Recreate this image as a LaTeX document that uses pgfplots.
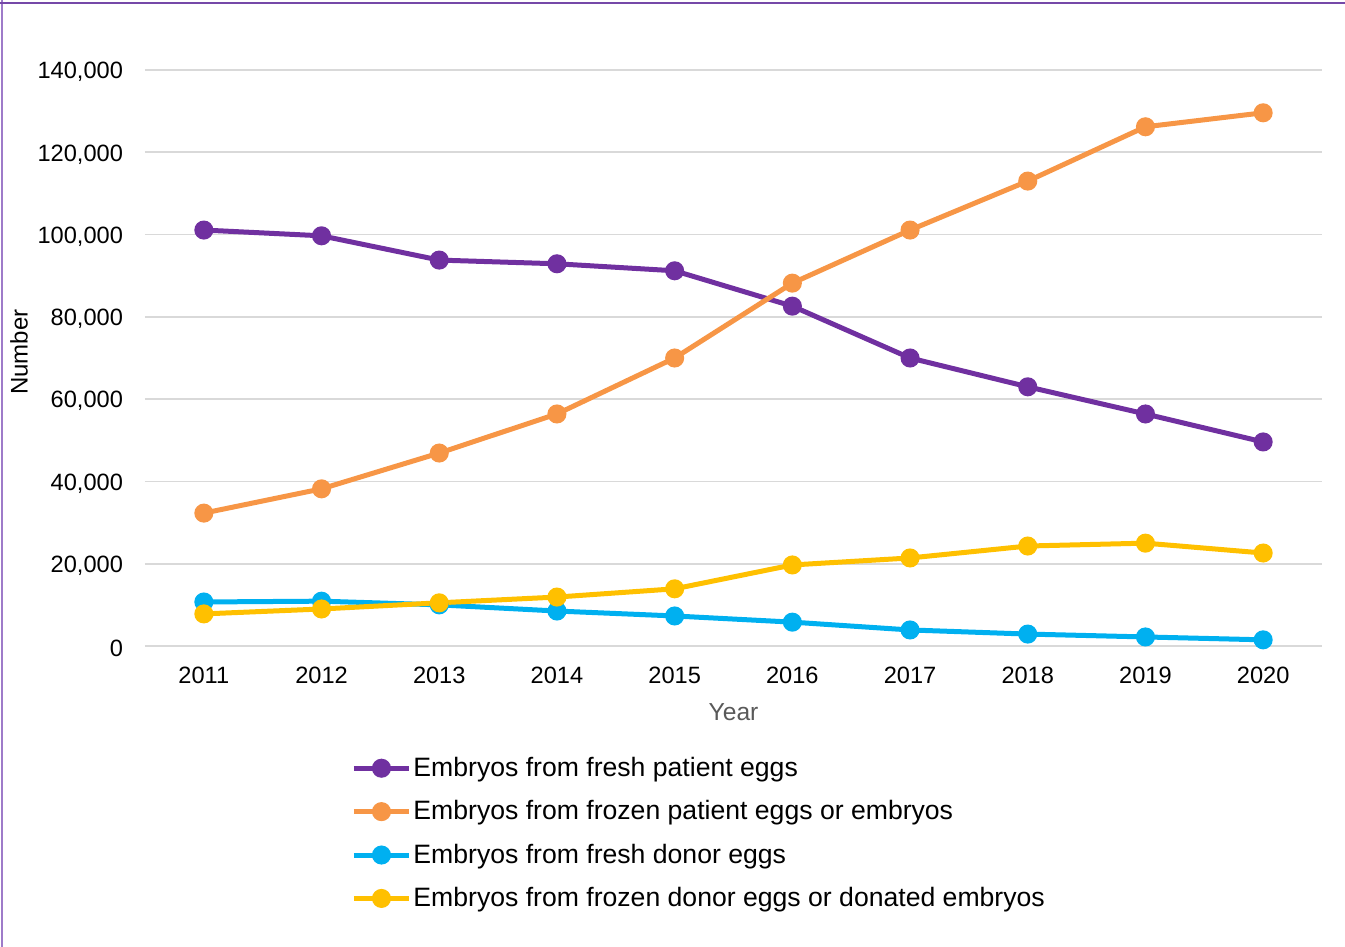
\documentclass[border=0pt]{standalone}
\usepackage{fontspec}
\setmainfont{Liberation Sans}
\usepackage{pgfplots}
\pgfplotsset{compat=1.18}
\definecolor{cPurple}{HTML}{7030A0}
\definecolor{cOrange}{HTML}{F79646}
\definecolor{cBlue}{HTML}{00B0F0}
\definecolor{cYellow}{HTML}{FFC000}
\definecolor{cGrid}{HTML}{D9D9D9}
\definecolor{cFrameL}{HTML}{9E7BC9}
\definecolor{cFrameT}{HTML}{7548A8}
\begin{document}
\begin{tikzpicture}
\path[use as bounding box] (0pt,0pt) rectangle (672.5pt,-473.5pt);
\draw[cFrameL,line width=1pt] (1pt,0pt) -- (1pt,-473.5pt);
\draw[cFrameT,line width=1pt] (0pt,-1.5pt) -- (672.5pt,-1.5pt);
\begin{axis}[
  at={(72.5pt,-323pt)}, anchor=south west,
  scale only axis, width=588.5pt, height=288pt,
  xmin=2010.5, xmax=2020.5, ymin=0, ymax=140000,
  xtick={2011,2012,2013,2014,2015,2016,2017,2018,2019,2020},
  xticklabels={2011,2012,2013,2014,2015,2016,2017,2018,2019,2020},
  ytick={0,20000,40000,60000,80000,100000,120000,140000},
  yticklabels={0,{20,000},{40,000},{60,000},{80,000},{100,000},{120,000},{140,000}},
  scaled y ticks=false,
  axis line style={draw=none},
  major tick length=0pt,
  ymajorgrids, grid style={cGrid,line width=0.9pt},
  font=\fontsize{11.8pt}{13pt}\selectfont,
  yticklabel style={xshift=-7.5pt, yshift=-1pt},
  xticklabel style={yshift=-7pt},
  xlabel={Year}, xlabel style={text=black!65, yshift=-3pt, font=\fontsize{12.3pt}{14pt}\selectfont},
  ylabel={Number}, ylabel style={yshift=-2pt, xshift=3pt, font=\fontsize{12pt}{14pt}\selectfont},
  every axis plot/.append style={line width=2.5pt, mark=*, mark size=3.5pt},
  legend style={at={(0.170,-0.1893)}, anchor=north west, draw=none,
     font=\fontsize{13.3pt}{15pt}\selectfont, row sep=9.7pt,
     nodes={inner sep=1pt, text depth=0.25em, text height=0.75em}},
  legend cell align=left,
  legend image code/.code={\draw[mark repeat=2,mark phase=2,#1] plot coordinates {(0pt,1.6pt) (13.75pt,1.6pt) (27.5pt,1.6pt)};},
]
\addplot[cPurple, mark options={fill=cPurple}] coordinates {
(2011,101100) (2012,99700) (2013,93800) (2014,92900) (2015,91200)
(2016,82600) (2017,70000) (2018,63000) (2019,56400) (2020,49600)};
\addlegendentry{Embryos from fresh patient eggs}
\addplot[cOrange, mark options={fill=cOrange}] coordinates {
(2011,32300) (2012,38200) (2013,46900) (2014,56400) (2015,70000)
(2016,88200) (2017,101100) (2018,113000) (2019,126200) (2020,129600)};
\addlegendentry{Embryos from frozen patient eggs or embryos}
\addplot[cBlue, mark options={fill=cBlue}] coordinates {
(2011,10700) (2012,10900) (2013,10000) (2014,8500) (2015,7300)
(2016,5800) (2017,3900) (2018,2900) (2019,2200) (2020,1500)};
\addlegendentry{Embryos from fresh donor eggs}
\addplot[cYellow, mark options={fill=cYellow}] coordinates {
(2011,7800) (2012,9000) (2013,10500) (2014,11900) (2015,13900)
(2016,19700) (2017,21400) (2018,24300) (2019,25000) (2020,22600)};
\addlegendentry{Embryos from frozen donor eggs or donated embryos}
\end{axis}
\end{tikzpicture}
\end{document}
